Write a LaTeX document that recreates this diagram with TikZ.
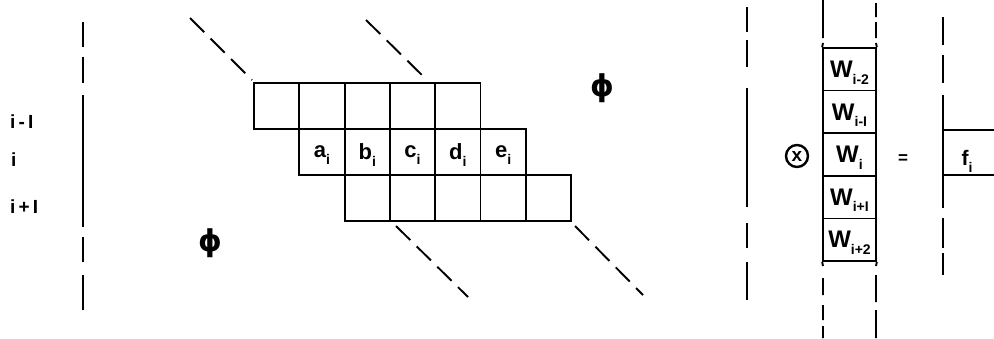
\documentclass[tikz,border=0pt]{standalone}
\usepackage{fontspec}
\setmainfont{Liberation Sans}
\newfontfamily\djfont{DejaVu Sans}
\newcommand\sbx[1]{\smash{\raisebox{-6.5pt}{\fontsize{14}{14}\selectfont #1}}}
\tikzset{
  x=1pt, y=-1pt,
  ln/.style={line width=1.9pt},
  dl/.style={line width=1.9pt, dash pattern=on 20pt off 9pt},
  cell/.style={draw, line width=1.9pt, minimum width=45.3pt, minimum height=46pt, inner sep=0pt,
    font=\fontsize{22}{22}\selectfont\bfseries},
  wcell/.style={draw, line width=1.7pt, minimum width=53pt, minimum height=42.6pt, inner sep=0pt,
    font=\fontsize{24}{24}\selectfont\bfseries},
  lab/.style={font=\fontsize{19}{19}\selectfont\bfseries, inner sep=0pt},
  phi/.style={font=\fontsize{30}{30}\selectfont\djfont\bfseries, inner sep=0pt}
}
\begin{document}
\begin{tikzpicture}
\useasboundingbox (0,0) rectangle (994,338);
% grid cells
\foreach \k in {0,...,4} {\node[cell] (r1c\k) at ({276.65+45.3*\k},106) {};}
\node[cell] (r2c1) at ({276.65+45.3*1},152) {a\sbx{i}};
\node[cell] (r2c2) at ({276.65+45.3*2},152) {b\sbx{i}};
\node[cell] (r2c3) at ({276.65+45.3*3},152) {c\sbx{i}};
\node[cell] (r2c4) at ({276.65+45.3*4},152) {d\sbx{i}};
\node[cell] (r2c5) at ({276.65+45.3*5},152) {e\sbx{i}};
\foreach \k in {2,...,6} {\node[cell] (r3c\k) at ({276.65+45.3*\k},198) {};}
% diagonal dashed lines
\coordinate (d1a) at (190,18);  \coordinate (d1b) at (252,80);
\coordinate (d2a) at (366,20);  \coordinate (d2b) at (428,81);
\coordinate (d3a) at (396,226); \coordinate (d3b) at (468,297);
\coordinate (d4a) at (575,226); \coordinate (d4b) at (643,295);
\draw[dl] (d1a) -- (d1b);
\draw[dl] (d2a) -- (d2b);
\draw[dl] (d3a) -- (d3b);
\draw[dl] (d4a) -- (d4b);
% left bracket line
\draw[ln] (83,22) -- (83,47) (83,57) -- (83,83) (83,95) -- (83,227) (83,237) -- (83,262) (83,275) -- (83,310);
% row labels
\node[lab, anchor=west] (lim1) at (10,122) {i\,-\,I};
\node[lab, anchor=west] (li) at (11,160) {i};
\node[lab, anchor=west] (lip1) at (10,207) {i\,+\,I};
% phis
\node[phi] (phi1) at (210,243) {ϕ};
\node[phi] (phi2) at (602,88) {ϕ};
% right vertical lines
\draw[ln] (747,7) -- (747,32) (747,40) -- (747,67) (747,88) -- (747,207) (747,223) -- (747,248) (747,262) -- (747,300);
% circled x
\node[circle, draw, line width=2.4pt, inner sep=0pt, minimum size=22pt, font=\fontsize{19}{19}\selectfont\bfseries] (ox) at (797,156) {x};
% W column
\node[wcell] (w1) at (849.5,69.3) {W\sbx{i-2}};
\node[wcell] (w2) at (849.5,111.9) {W\sbx{i-I}};
\node[wcell] (w3) at (849.5,154.5) {W\sbx{i}};
\node[wcell] (w4) at (849.5,197.1) {W\sbx{i+I}};
\node[wcell] (w5) at (849.5,239.7) {W\sbx{i+2}};
\draw[ln] (823,0) -- (823,38) (823,43) -- (w1.north west);
\draw[ln] (876,3) -- (876,17) (876,22) -- (876,38) (876,43) -- (w1.north east);
\draw[ln] (w5.south west) -- (823,266) (823,278) -- (823,295) (823,305) -- (823,320) (823,326) -- (823,338);
\draw[ln] (w5.south east) -- (876,266) (876,275) -- (876,302) (876,310) -- (876,338);
% equals
\node[font=\fontsize{17}{17}\selectfont\bfseries] (eq) at (903,159) {=};
% f line and box
\draw[ln] (943,17) -- (943,45) (943,55) -- (943,83) (943,95) -- (943,208) (943,218) -- (943,248) (943,253) -- (943,275);
\coordinate (ft1) at (943,130); \coordinate (ft2) at (994,130);
\coordinate (fb1) at (943,175); \coordinate (fb2) at (994,175);
\draw[ln] (ft1) -- (ft2);
\draw[ln] (fb1) -- (fb2);
\node[font=\fontsize{21}{21}\selectfont\bfseries] (fi) at (967,158) {f\sbx{i}};
\end{tikzpicture}
\end{document}
